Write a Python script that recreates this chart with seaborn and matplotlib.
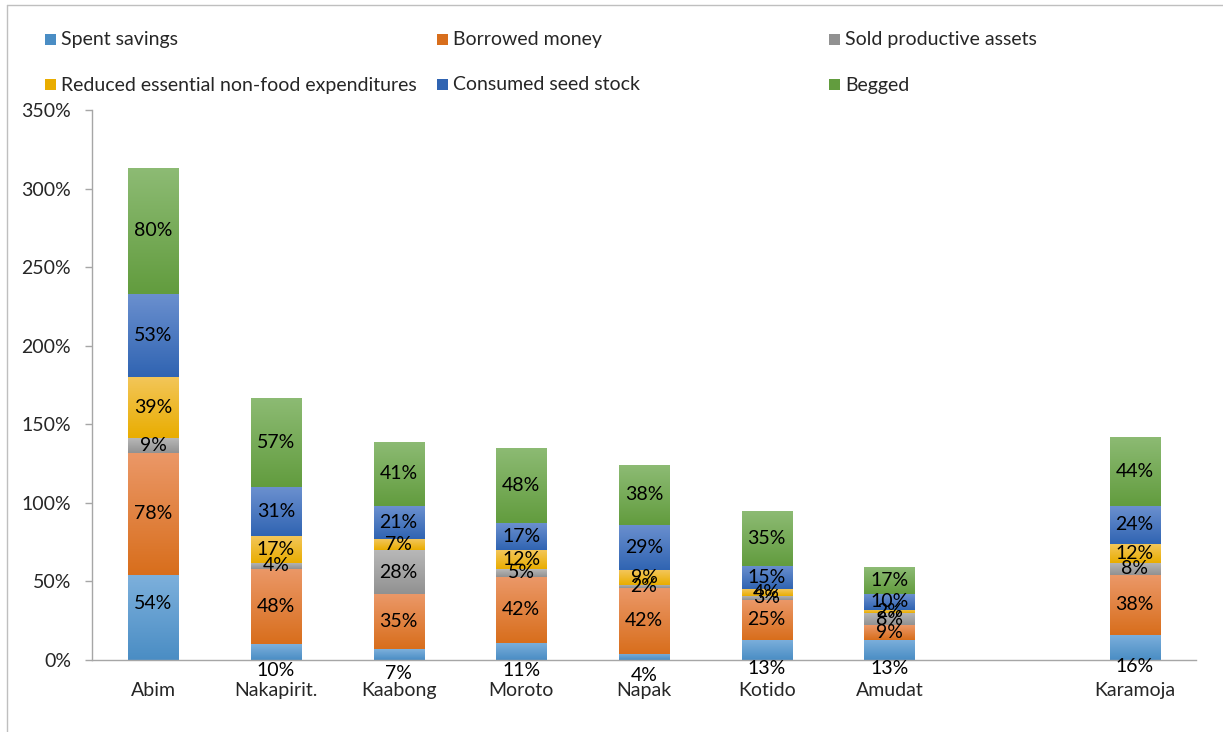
import numpy as np
import pandas as pd
import matplotlib
matplotlib.use("Agg")
import matplotlib.pyplot as plt
import seaborn as sns
from matplotlib.colors import LinearSegmentedColormap
from matplotlib.lines import Line2D
from matplotlib.patches import Rectangle

# Coping strategies by district (% of households, strategies can overlap)
districts = ["Abim", "Nakapirit.", "Kaabong", "Moroto", "Napak", "Kotido", "Amudat", " ", "Karamoja"]
spent_savings = [54, 10, 7, 11, 4, 13, 13, 0, 16]
borrowed_money = [78, 48, 35, 42, 42, 25, 9, 0, 38]
sold_assets = [9, 4, 28, 5, 2, 3, 8, 0, 8]
reduced_nonfood = [39, 17, 7, 12, 9, 4, 2, 0, 12]
consumed_seed = [53, 31, 21, 17, 29, 15, 10, 0, 24]
begged = [80, 57, 41, 48, 38, 35, 17, 0, 44]

series_names = ["Spent savings", "Borrowed money", "Sold productive assets",
                "Reduced essential non-food expenditures", "Consumed seed stock", "Begged"]
series_values = [spent_savings, borrowed_money, sold_assets,
                 reduced_nonfood, consumed_seed, begged]
y_ticks = [0, 50, 100, 150, 200, 250, 300, 350]

# (top, bottom) shades for each series' vertical gradient
shades = [("#7db0dc", "#4a8dc4"),
          ("#eb9868", "#d86e1c"),
          ("#b8b8b8", "#919191"),
          ("#f3c65a", "#e9ad00"),
          ("#6b90cf", "#3064b2"),
          ("#8dbb74", "#629c3e")]

sns.set_theme(style="white")
plt.rcParams["font.family"] = ["Lato", "DejaVu Sans"]
FS = 14

W, H = 1223, 732
fig = plt.figure(figsize=(W / 100, H / 100), dpi=100)
ax = fig.add_axes([92 / W, 72 / H, 1104 / W, 550 / H])

n = len(districts)
bottom = np.zeros(n)
bar_w = 0.41
grad = np.linspace(0, 1, 256).reshape(-1, 1)

for name, vals, (top_c, bot_c) in zip(series_names, series_values, shades):
    df = pd.DataFrame({"district": districts, "value": vals})
    start = len(ax.patches)
    sns.barplot(data=df, x="district", y="value", order=districts, color=bot_c,
                width=bar_w, errorbar=None, bottom=bottom.copy(), linewidth=0,
                saturation=1, ax=ax)
    cmap = LinearSegmentedColormap.from_list(name, [bot_c, top_c])
    for p in ax.patches[start:]:
        h = p.get_height()
        if h <= 0:
            continue
        x0, y0, w = p.get_x(), p.get_y(), p.get_width()
        im = ax.imshow(grad, extent=[x0, x0 + w, y0, y0 + h], origin="lower",
                       aspect="auto", cmap=cmap, zorder=p.get_zorder() + 0.1,
                       interpolation="bilinear")
        im.set_clip_path(p)
    # value labels
    for i, v in enumerate(vals):
        if v <= 0:
            continue
        if name == "Spent savings":
            y = v * 2 / 3 if v >= 20 else v / 2 - 12
        else:
            y = bottom[i] + v / 2
        ax.text(i, y, f"{v}%", ha="center", va="center", fontsize=FS,
                color="black", zorder=10)
    bottom += np.array(vals)

ax.set_xlim(-0.5, n - 0.5)
ax.set_ylim(0, 350)
ax.set_yticks(y_ticks)
ax.set_yticklabels([f"{t}%" for t in y_ticks], fontsize=FS)
ax.set_xticks(range(n))
ax.set_xticklabels(districts, fontsize=FS)
ax.set_xticks(np.arange(-0.5, n, 1.0), minor=True)
ax.tick_params(axis="x", which="major", length=0, pad=16)
ax.tick_params(axis="x", which="minor", length=5, width=1, color="#a6a6a6", direction="out")
ax.tick_params(axis="y", which="major", left=True, length=5, width=1, color="#a6a6a6",
               direction="out", pad=10)
ax.set_xlabel("")
ax.set_ylabel("")
for s in ["top", "right"]:
    ax.spines[s].set_visible(False)
for s in ["left", "bottom"]:
    ax.spines[s].set_color("#a6a6a6")
    ax.spines[s].set_linewidth(1)

# legend: three columns, two rows
col_x = [45, 437, 829]
row_y = [40, 85]
for k, (name, (top_c, bot_c)) in enumerate(zip(series_names, shades)):
    cx = col_x[k % 3]
    cy = row_y[k // 3]
    sq = 11
    fig.patches.append(Rectangle((cx / W, 1 - (cy + sq / 2 - 1) / H), sq / W, sq / H,
                                 transform=fig.transFigure, facecolor=bot_c,
                                 edgecolor="none"))
    fig.text((cx + 16) / W, 1 - cy / H, name, fontsize=FS, ha="left", va="center")

# chart frame
fig.add_artist(Line2D([7 / W, 7 / W], [0, 1 - 5 / H], transform=fig.transFigure,
                      color="#bfbfbf", linewidth=1))
fig.add_artist(Line2D([7 / W, 1], [1 - 5 / H, 1 - 5 / H], transform=fig.transFigure,
                      color="#bfbfbf", linewidth=1))

fig.savefig("out.png", dpi=100)
